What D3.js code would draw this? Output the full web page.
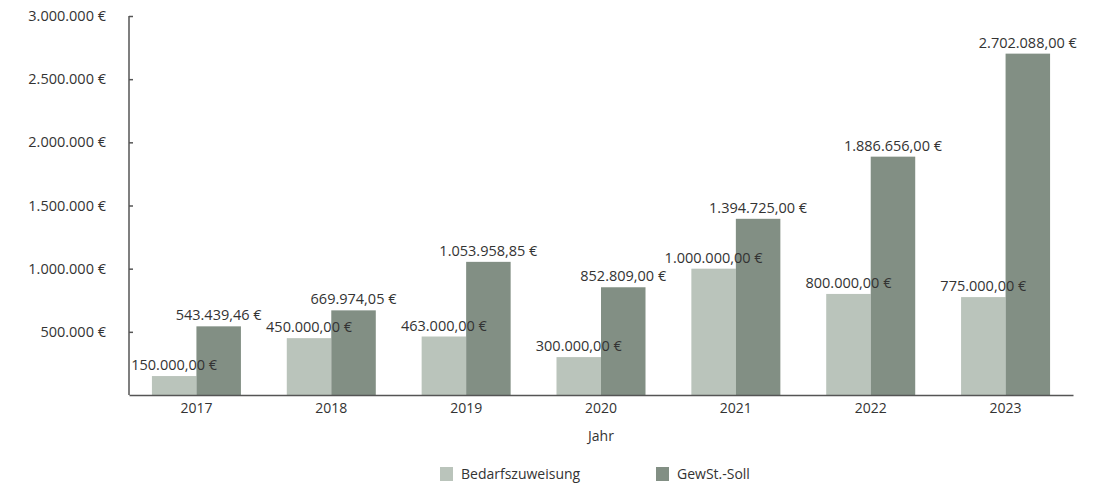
<!DOCTYPE html>
<html>
<head>
<meta charset="utf-8">
<script src="https://cdn.jsdelivr.net/npm/d3@7"></script>
<style>
  body { margin: 0; background: #fff; }
  text { font-family: "Open Sans", "Noto Sans", sans-serif; fill: #333; }
</style>
</head>
<body>
<div id="chart"></div>
<script>
// data
var years = ["2017", "2018", "2019", "2020", "2021", "2022", "2023"];
var bedarf = [150000, 450000, 463000, 300000, 1000000, 800000, 775000];
var gewst = [543439.46, 669974.05, 1053958.85, 852809.00, 1394725.00, 1886656.00, 2702088.00];
var seriesNames = ["Bedarfszuweisung", "GewSt.-Soll"];
var yTicks = [500000, 1000000, 1500000, 2000000, 2500000, 3000000];

var colors = ["#bac4bb", "#828f84"];

var svgWidth = 1097;
var svgHeight = 486;
var margin = { top: 16, right: 24, bottom: 91, left: 129 };
var width = svgWidth - margin.left - margin.right;
var height = svgHeight - margin.top - margin.bottom;

var de = d3.formatLocale({ decimal: ",", thousands: ".", grouping: [3], currency: ["", " €"] });
var fmtTick = de.format(",.0f");
var fmtVal = de.format(",.2f");

var svg = d3.select("#chart")
  .append("svg")
  .attr("width", svgWidth)
  .attr("height", svgHeight);

var chartGroup = svg.append("g")
  .attr("transform", `translate(${margin.left}, ${margin.top})`);

var x0 = d3.scaleBand().domain(years).range([0, width]).paddingInner(0.34).paddingOuter(0.17);
var x1 = d3.scaleBand().domain([0, 1]).range([0, x0.bandwidth()]);
var y = d3.scaleLinear().domain([0, 3000000]).range([height, 0]);

var rows = years.map(function(yr, i) {
  return { year: yr, vals: [bedarf[i], gewst[i]] };
});

var groups = chartGroup.selectAll(".grp")
  .data(rows)
  .enter()
  .append("g")
  .attr("transform", d => `translate(${x0(d.year)},0)`);

groups.selectAll("rect")
  .data(d => d.vals.map((v, k) => ({ v: v, k: k })))
  .enter()
  .append("rect")
  .attr("x", d => x1(d.k))
  .attr("width", x1.bandwidth())
  .attr("y", d => y(d.v))
  .attr("height", d => height - y(d.v))
  .attr("fill", d => colors[d.k]);

groups.selectAll(".lbl")
  .data(d => d.vals.map((v, k) => ({ v: v, k: k })))
  .enter()
  .append("text")
  .attr("x", d => x1(d.k) + x1.bandwidth() / 2)
  .attr("y", d => y(d.v) - 6)
  .attr("text-anchor", "middle")
  .style("font-size", "14.5px")
  .text(d => fmtVal(d.v) + " €");

// y axis
var leftAxis = d3.axisRight(y).tickValues(yTicks).tickSize(4).tickFormat(d => fmtTick(d) + " €");
var yAxisG = chartGroup.append("g").call(leftAxis);
yAxisG.select(".domain").remove();
yAxisG.selectAll(".tick line").attr("stroke", "#555").attr("stroke-width", 1.5);
yAxisG.selectAll(".tick text")
  .attr("x", -23)
  .attr("text-anchor", "end")
  .style("font-size", "14.5px")
  .style("font-family", "'Open Sans', 'Noto Sans', sans-serif")
  .attr("fill", "#333");
chartGroup.append("line")
  .attr("x1", 0).attr("x2", 0).attr("y1", y(3000000)).attr("y2", height)
  .attr("stroke", "#555").attr("stroke-width", 1.5);

// x axis
var bottomAxis = d3.axisBottom(x0).tickSize(0).tickPadding(8);
var xAxisG = chartGroup.append("g")
  .attr("transform", `translate(0, ${height})`)
  .call(bottomAxis);
xAxisG.select(".domain").attr("stroke", "#555").attr("stroke-width", 1.5);
xAxisG.selectAll(".tick text")
  .style("font-size", "14px")
  .style("font-family", "'Open Sans', 'Noto Sans', sans-serif")
  .attr("fill", "#333");

chartGroup.append("text")
  .attr("x", width / 2)
  .attr("y", height + 46)
  .attr("text-anchor", "middle")
  .style("font-size", "14px")
  .text("Jahr");

// legend
var legendX = [440, 656];
var legend = svg.selectAll(".legend")
  .data(seriesNames)
  .enter()
  .append("g")
  .attr("transform", (d, i) => `translate(${legendX[i]}, 467)`);
legend.append("rect")
  .attr("width", 13).attr("height", 14)
  .attr("fill", (d, i) => colors[i]);
legend.append("text")
  .attr("x", 21).attr("y", 12)
  .style("font-size", "14px")
  .text(d => d);
</script>
</body>
</html>
